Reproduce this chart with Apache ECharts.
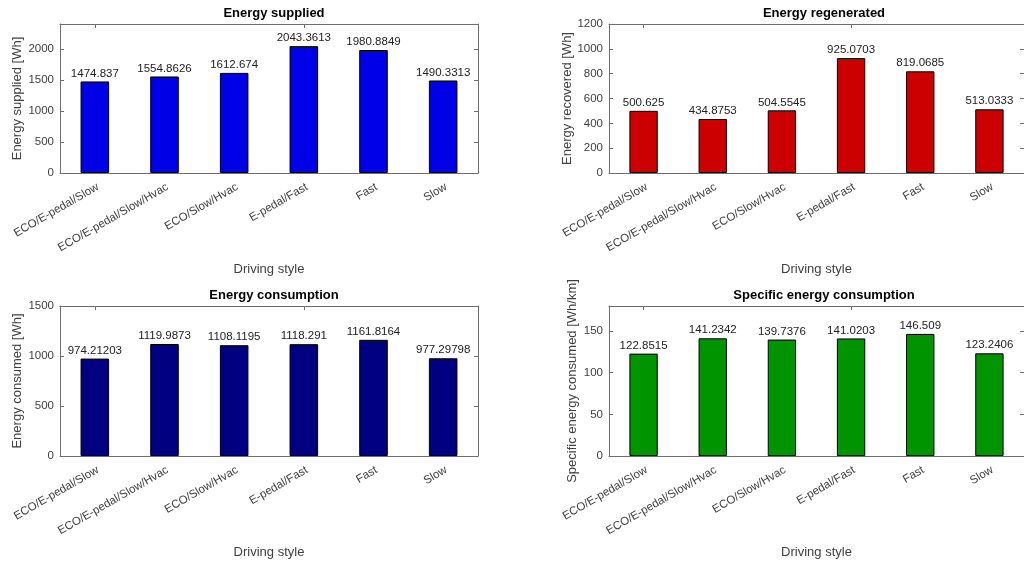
<!DOCTYPE html>
<html>
<head>
<meta charset="utf-8">
<title>Energy by driving style</title>
<script src="https://cdn.jsdelivr.net/npm/echarts@6/dist/echarts.min.js"></script>
<style>
  html, body { margin: 0; padding: 0; background: #fff; }
  #chart { width: 1024px; height: 564px; }
</style>
</head>
<body>
<div id="chart"></div>
<script>
// Driving styles (shared category axis of all four panels)
const drivingStyles = ['ECO/E-pedal/Slow', 'ECO/E-pedal/Slow/Hvac', 'ECO/Slow/Hvac', 'E-pedal/Fast', 'Fast', 'Slow'];

// Energy supplied [Wh]
const energySupplied = [1474.837, 1554.8626, 1612.674, 2043.3613, 1980.8849, 1490.3313];
// Energy regenerated [Wh]
const energyRecovered = [500.625, 434.8753, 504.5545, 925.0703, 819.0685, 513.0333];
// Energy consumed [Wh]
const energyConsumed = [974.21203, 1119.9873, 1108.1195, 1118.291, 1161.8164, 977.29798];
// Specific energy consumed [Wh/km]
const specificConsumption = [122.8515, 141.2342, 139.7376, 141.0203, 146.509, 123.2406];

// Y tick labels per panel
const ticksSupplied = [0, 500, 1000, 1500, 2000];
const ticksRecovered = [0, 200, 400, 600, 800, 1000, 1200];
const ticksConsumed = [0, 500, 1000, 1500];
const ticksSpecific = [0, 50, 100, 150];

const FONT = '"Liberation Sans", Arial, Helvetica, sans-serif';
const AXIS_COLOR = '#6e6e6e';
const TEXT_COLOR = '#404040';

const panels = [
  { title: 'Energy supplied', yName: 'Energy supplied [Wh]', data: energySupplied, ticks: ticksSupplied,
    max: 2400, interval: 500, color: '#0000E6',
    grid: { left: 60, top: 24, width: 418, height: 149 }, nameGap: 36 },
  { title: 'Energy regenerated', yName: 'Energy recovered [Wh]', data: energyRecovered, ticks: ticksRecovered,
    max: 1200, interval: 200, color: '#CC0000',
    grid: { left: 609, top: 24, width: 420, height: 149 }, nameGap: 35 },
  { title: 'Energy consumption', yName: 'Energy consumed [Wh]', data: energyConsumed, ticks: ticksConsumed,
    max: 1500, interval: 500, color: '#000080',
    grid: { left: 60, top: 306, width: 418, height: 150 }, nameGap: 36 },
  { title: 'Specific energy consumption', yName: 'Specific energy consumed [Wh/km]', data: specificConsumption, ticks: ticksSpecific,
    max: 180, interval: 50, color: '#009400',
    grid: { left: 609, top: 306, width: 420, height: 150 }, nameGap: 30 }
];

const option = {
  animation: false,
  backgroundColor: '#ffffff',
  textStyle: { fontFamily: FONT },
  title: [], grid: [], xAxis: [], yAxis: [], series: []
};

panels.forEach((p, i) => {
  const g = p.grid;
  option.title.push({
    text: p.title,
    left: g.left + g.width / 2,
    top: g.top - 22,
    textAlign: 'center',
    textStyle: { fontFamily: FONT, fontSize: 13, fontWeight: 'bold', color: '#000' }
  });
  option.grid.push(Object.assign({ containLabel: false }, g));

  const tickStyle = { show: true, inside: true, length: 4, lineStyle: { color: AXIS_COLOR } };
  const lineStyle = { show: true, onZero: false, lineStyle: { color: AXIS_COLOR, width: 1 } };

  // bottom category axis with rotated labels
  option.xAxis.push({
    type: 'category', gridIndex: i, data: drivingStyles, position: 'bottom',
    axisLine: lineStyle,
    axisTick: Object.assign({ alignWithLabel: true }, tickStyle),
    axisLabel: { rotate: 30, margin: 8, verticalAlign: 'top', fontSize: 11.5, color: TEXT_COLOR, fontFamily: FONT, interval: 0 },
    name: 'Driving style', nameLocation: 'middle', nameGap: 90,
    nameTextStyle: { fontSize: 13, color: TEXT_COLOR, fontFamily: FONT },
    splitLine: { show: false }
  });
  // top mirror axis closing the box
  option.xAxis.push({
    type: 'category', gridIndex: i, data: drivingStyles, position: 'top',
    axisLine: lineStyle,
    axisTick: Object.assign({ alignWithLabel: true }, tickStyle),
    axisLabel: { show: false }, splitLine: { show: false }
  });

  const ticks = p.ticks;
  option.yAxis.push({
    type: 'value', gridIndex: i, min: 0, max: p.max, interval: p.interval, position: 'left',
    axisLine: lineStyle, axisTick: tickStyle,
    axisLabel: {
      fontSize: 11.5, color: TEXT_COLOR, fontFamily: FONT, margin: 6,
      showMaxLabel: ticks.indexOf(p.max) >= 0,
      formatter: v => (ticks.indexOf(v) >= 0 ? String(v) : '')
    },
    name: p.yName, nameLocation: 'middle', nameGap: p.nameGap,
    nameTextStyle: { fontSize: 13, color: TEXT_COLOR, fontFamily: FONT },
    splitLine: { show: false }
  });
  option.yAxis.push({
    type: 'value', gridIndex: i, min: 0, max: p.max, interval: p.interval, position: 'right',
    axisLine: lineStyle, axisTick: tickStyle,
    axisLabel: { show: false }, splitLine: { show: false }
  });

  option.series.push({
    type: 'bar',
    xAxisIndex: 2 * i, yAxisIndex: 2 * i,
    data: p.data,
    barWidth: '41%',
    itemStyle: { color: p.color, borderColor: '#000', borderWidth: 1 },
    label: {
      show: true, position: 'top', distance: 2,
      fontSize: 11.5, color: '#222', fontFamily: FONT,
      formatter: d => String(d.value)
    }
  });
});

const chart = echarts.init(document.getElementById('chart'), null, { renderer: 'canvas' });
chart.setOption(option);
</script>
</body>
</html>
